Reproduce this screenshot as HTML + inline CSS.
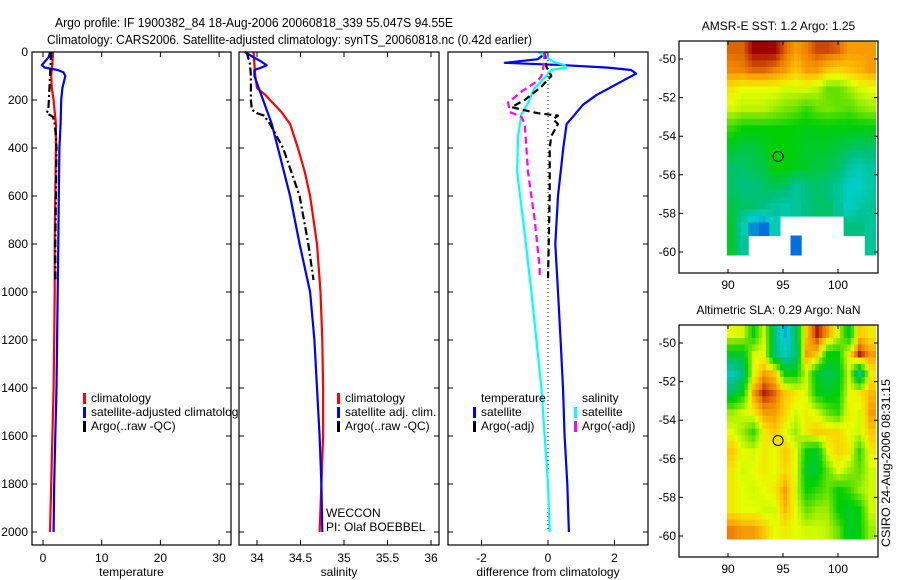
<!DOCTYPE html>
<html><head><meta charset="utf-8">
<style>
html,body{margin:0;padding:0;background:#fff;}
svg{display:block;font-family:"Liberation Sans",Arial,sans-serif;}
</style></head>
<body>
<svg id="fig" width="900" height="580" viewBox="0 0 900 580" xmlns="http://www.w3.org/2000/svg">
<text x="55" y="27" font-size="13" textLength="398" lengthAdjust="spacingAndGlyphs">Argo profile: IF 1900382_84 18-Aug-2006 20060818_339 55.047S 94.55E</text>
<text x="47" y="44" font-size="13" textLength="485" lengthAdjust="spacingAndGlyphs">Climatology: CARS2006. Satellite-adjusted climatology: synTS_20060818.nc (0.42d earlier)</text>
<text transform="translate(890,547) rotate(-90)" font-size="12" textLength="168" lengthAdjust="spacingAndGlyphs">CSIRO 24-Aug-2006 08:31:15</text>
</svg>
<script>
// ---------- data ----------
const depthTicks = [0,200,400,600,800,1000,1200,1400,1600,1800,2000];
const tempTicks = [0,10,20,30];
const salTicks = [34,34.5,35,35.5,36];
const salTickLabels = ["34","34.5","35","35.5","36"];
const diffTicks = [-2,0,2];

const tClimDepth = [0,50,100,150,200,250,300,400,600,800,1000,1200,1400,1600,1800,2000];
const tClimVal   = [1.7,1.6,1.4,1.5,1.8,2.0,2.2,2.2,2.1,2.0,2.0,1.9,1.8,1.6,1.4,1.2];
const tSatDepth  = [0,20,40,55,65,75,85,100,150,200,300,400,600,800,1000,1200,1400,1600,1800,2000];
const tSatVal    = [1.2,1.0,0.3,-0.2,0.3,2.5,3.5,3.8,3.3,3.1,3.0,2.8,2.7,2.6,2.5,2.4,2.3,2.1,1.9,1.8];
const tArgoDepth = [0,50,100,150,200,240,255,270,300,350,400,600,800,950];
const tArgoVal   = [1.4,1.3,1.2,1.1,1.0,0.9,0.6,1.7,2.0,2.2,2.3,2.2,2.1,2.1];

const sClimDepth = [0,100,150,180,200,250,300,400,500,600,800,1000,1200,1400,1600,1800,2000];
const sClimVal   = [33.96,33.98,34.0,34.1,34.15,34.28,34.38,34.47,34.55,34.61,34.69,34.73,34.75,34.76,34.76,34.74,34.72];
const sSatDepth  = [0,20,40,55,65,75,100,130,200,300,400,600,800,1000,1200,1400,1600,1800,2000];
const sSatVal    = [33.86,33.95,34.05,34.11,34.05,33.97,33.97,34.0,34.07,34.17,34.24,34.38,34.49,34.61,34.66,34.69,34.72,34.74,34.75];
const sArgoDepth = [0,50,100,200,240,255,265,300,400,600,800,950];
const sArgoVal   = [33.88,33.92,33.93,33.93,33.94,34.0,34.08,34.15,34.3,34.49,34.59,34.65];

const dTSatDepth = [0,30,45,55,65,75,90,120,180,220,270,300,400,600,800,1000,1200,1400,1600,1800,2000];
const dTSatVal   = [-0.05,-0.3,-1.3,0.5,1.8,2.5,2.65,2.25,1.45,1.05,0.75,0.56,0.46,0.3,0.22,0.3,0.38,0.45,0.5,0.58,0.63];
const dSSatDepth = [0,20,40,55,65,75,100,150,213,260,350,500,700,1000,1200,1400,1600,1800,2000];
const dSSatVal   = [-0.3,-0.05,0.15,0.5,0.55,0.1,-0.05,-0.4,-0.6,-0.8,-0.9,-0.93,-0.75,-0.5,-0.35,-0.2,-0.1,0,0.05];
const dTArgoDepth = [0,60,100,144,200,230,255,265,280,300,350,400,600,800,950];
const dTArgoVal   = [-0.1,-0.05,0.1,-0.2,-0.7,-1.1,-0.3,0.3,0.15,0.3,0.1,0.05,0.05,0.02,0.0];
const dSArgoDepth = [0,50,100,120,160,210,250,270,300,400,500,700,900,930];
const dSArgoVal   = [-0.1,-0.12,-0.2,-0.3,-0.75,-1.2,-1.15,-0.8,-0.7,-0.65,-0.6,-0.4,-0.25,-0.25];

const lonTicks = [90,95,100];
const latTicks = [-50,-52,-54,-56,-58,-60];
const profileLon = 94.55;
const profileLat = -55.05;
const N = NaN;
const sstGrid = [
[0.9,0.9,0.97,0.97,0.97,0.9,0.85,0.88,0.92,0.92,0.9,0.85,0.85,0.85],
[0.87,0.88,0.9,0.9,0.88,0.85,0.8,0.85,0.85,0.8,0.78,0.8,0.82,0.85],
[0.75,0.72,0.72,0.72,0.72,0.7,0.7,0.7,0.68,0.6,0.6,0.65,0.7,0.72],
[0.7,0.68,0.68,0.68,0.65,0.62,0.6,0.55,0.6,0.62,0.6,0.58,0.62,0.65],
[0.55,0.5,0.5,0.5,0.5,0.5,0.48,0.48,0.48,0.48,0.48,0.48,0.48,0.48],
[0.45,0.42,0.42,0.45,0.5,0.5,0.48,0.45,0.45,0.45,0.42,0.4,0.38,0.38],
[0.38,0.38,0.4,0.42,0.5,0.5,0.47,0.45,0.42,0.42,0.38,0.3,0.25,0.3],
[0.38,0.35,0.35,0.38,0.4,0.38,0.3,0.35,0.38,0.35,0.3,0.22,0.22,0.28],
[0.42,0.38,0.38,0.35,0.3,0.28,0.3,0.35,0.38,0.38,0.32,0.22,0.28,0.32],
[0.45,0.25,0.1,0.05,0.25,N,N,N,N,N,N,0.35,0.35,0.3],
[0.45,0.3,N,N,N,N,0.05,N,N,N,N,N,N,0.3]];
const slaGrid = [
[0.72,0.7,0.5,0.7,0.35,0.15,0.4,0.8,0.95,0.85,0.7,0.45,0.8,0.75],
[0.45,0.45,0.7,0.72,0.35,0.25,0.35,0.85,0.8,0.5,0.5,0.75,0.95,0.85],
[0.25,0.35,0.72,0.85,0.8,0.5,0.5,0.7,0.45,0.4,0.45,0.7,0.3,0.75],
[0.4,0.5,0.85,0.95,0.9,0.8,0.75,0.7,0.5,0.45,0.5,0.72,0.75,0.82],
[0.65,0.7,0.75,0.85,0.85,0.78,0.7,0.75,0.7,0.6,0.55,0.75,0.7,0.85],
[0.72,0.65,0.55,0.75,0.8,0.72,0.65,0.75,0.8,0.78,0.78,0.72,0.7,0.8],
[0.8,0.72,0.7,0.75,0.72,0.8,0.72,0.5,0.45,0.72,0.78,0.75,0.55,0.75],
[0.75,0.7,0.72,0.75,0.72,0.78,0.72,0.45,0.45,0.6,0.72,0.65,0.6,0.7],
[0.75,0.72,0.7,0.72,0.75,0.85,0.7,0.5,0.55,0.6,0.5,0.55,0.65,0.7],
[0.75,0.72,0.72,0.7,0.7,0.82,0.72,0.6,0.65,0.65,0.5,0.45,0.5,0.7],
[0.88,0.85,0.85,0.8,0.72,0.75,0.72,0.7,0.7,0.68,0.6,0.45,0.5,0.65]];

// ---------- helpers ----------
const NS = "http://www.w3.org/2000/svg";
const svg = document.getElementById('fig');
function mk(tag, attrs, parent){
  const e = document.createElementNS(NS, tag);
  for (const k in attrs) e.setAttribute(k, attrs[k]);
  (parent||svg).appendChild(e);
  return e;
}
const Y0 = 52, YS = 0.24;
function yD(d){ return Y0 + d*YS; }
const panels = [
  {x0:32, x1:231, xf:v=>43+5.87*v},
  {x0:239, x1:439, xf:v=>257+87*(v-34)},
  {x0:448, x1:648, xf:v=>548+33.25*v}
];
const PB = 545;

function drawAxesFrame(p, ticks, labels, name, xlabel){
  const bg = mk('rect',{x:p.x0,y:Y0,width:p.x1-p.x0,height:PB-Y0,fill:'#fff',stroke:'none'});
  
  
  ticks.forEach((t,i)=>{
    const x = p.xf(t);
    const tk = mk('path',{d:`M${x},${PB}v-5M${x},${Y0}v5`,stroke:'#000','stroke-width':1});
    
    
    const tl = mk('text',{x:x,y:562,'font-size':12,'text-anchor':'middle'});
    tl.textContent = labels[i];
    
    
  });
  depthTicks.forEach(d=>{
    const y = yD(d);
    const tk = mk('path',{d:`M${p.x0},${y}h5M${p.x1},${y}h-5`,stroke:'#000','stroke-width':1});
    
    
  });
  const xl = mk('text',{x:(p.x0+p.x1)/2,y:576,'font-size':12,'text-anchor':'middle'});
  xl.textContent = xlabel;
  
  
}
function drawFrameBorder(p, name){
  const fr = mk('rect',{x:p.x0,y:Y0,width:p.x1-p.x0,height:PB-Y0,fill:'none',stroke:'#000','stroke-width':1.2});
  
  
}
function line(p, depths, vals, color, dash, name){
  const pts = depths.map((d,i)=>p.xf(vals[i]).toFixed(1)+','+yD(d).toFixed(1)).join(' ');
  const pl = mk('polyline',{points:pts,fill:'none',stroke:color,'stroke-width':2.2,'stroke-dasharray':dash||'none','stroke-linejoin':'round'});
  
  
}
function legend(x, y, color, text, name){
  if(color){
    const b = mk('rect',{x:x,y:y-9,width:3,height:11,fill:color});
    
    
  }
  const t = mk('text',{x:x+8,y:y,'font-size':12});
  t.textContent = text;
  
  
}

depthTicks.forEach(d=>{
  const t = mk('text',{x:28,y:yD(d)+4,'font-size':12,'text-anchor':'end'});
  t.textContent = String(d);
  
  
});

// Panel 1: temperature
drawAxesFrame(panels[0], tempTicks, tempTicks.map(String), 'temperature-panel', 'temperature');
line(panels[0], tClimDepth, tClimVal, '#ff0000', null, 'temperature-climatology-line');
line(panels[0], tSatDepth, tSatVal, '#0000ff', null, 'temperature-satellite-line');
line(panels[0], tArgoDepth, tArgoVal, '#000', '8,3,2,3', 'temperature-argo-line');
legend(83, 402, '#ff0000', 'climatology', 'legend-climatology');
legend(83, 416, '#0000ff', 'satellite-adjusted climatology', 'legend-satellite-adjusted');
legend(83, 430, '#000', 'Argo(..raw -QC)', 'legend-argo');

// Panel 2: salinity
drawAxesFrame(panels[1], salTicks, salTickLabels, 'salinity-panel', 'salinity');
line(panels[1], sClimDepth, sClimVal, '#ff0000', null, 'salinity-climatology-line');
line(panels[1], sSatDepth, sSatVal, '#0000ff', null, 'salinity-satellite-line');
line(panels[1], sArgoDepth, sArgoVal, '#000', '8,3,2,3', 'salinity-argo-line');
legend(337, 402, '#ff0000', 'climatology', 'legend-sal-climatology');
legend(337, 416, '#0000ff', 'satellite adj. clim.', 'legend-sal-satellite');
legend(337, 430, '#000', 'Argo(..raw -QC)', 'legend-sal-argo');
legend(318, 517, null, 'WECCON', 'project-name');
legend(318, 531, null, 'PI: Olaf BOEBBEL', 'pi-name');

// Panel 3: difference
drawAxesFrame(panels[2], diffTicks, diffTicks.map(String), 'difference-panel', 'difference from climatology');
const zl = mk('line',{x1:panels[2].xf(0),y1:Y0,x2:panels[2].xf(0),y2:yD(2000),stroke:'#000','stroke-width':1,'stroke-dasharray':'1,3'});


line(panels[2], dTSatDepth, dTSatVal, '#0000ff', null, 'diff-temperature-satellite-line');
line(panels[2], dSSatDepth, dSSatVal, '#00ffff', null, 'diff-salinity-satellite-line');
line(panels[2], dTArgoDepth, dTArgoVal, '#000', '7,4', 'diff-temperature-argo-line');
line(panels[2], dSArgoDepth, dSArgoVal, '#ff00ff', '7,4', 'diff-salinity-argo-line');
legend(473, 402, null, 'temperature', 'legend-diff-temperature-heading');
legend(473, 416, '#0000ff', 'satellite', 'legend-diff-temp-satellite');
legend(473, 430, '#000', 'Argo(-adj)', 'legend-diff-temp-argo');
legend(574, 402, null, 'salinity', 'legend-diff-salinity-heading');
legend(574, 416, '#00ffff', 'satellite', 'legend-diff-sal-satellite');
legend(574, 430, '#ff00ff', 'Argo(-adj)', 'legend-diff-sal-argo');
panels.forEach((p,i)=>drawFrameBorder(p, ['temperature-panel','salinity-panel','difference-panel'][i]));

// ---------- maps ----------
const stops = [[0,[0,80,224]],[0.2,[0,208,208]],[0.35,[0,192,128]],[0.5,[0,208,0]],[0.62,[120,230,0]],[0.72,[230,255,0]],[0.8,[255,200,0]],[0.88,[240,130,0]],[0.97,[160,0,0]]];
function cmap(v){
  if (v<=stops[0][0]) return `rgb(${stops[0][1]})`;
  for (let i=1;i<stops.length;i++){
    if (v<=stops[i][0]){
      const a=stops[i-1], b=stops[i], f=(v-a[0])/(b[0]-a[0]);
      const c=a[1].map((x,j)=>Math.round(x+(b[1][j]-x)*f));
      return `rgb(${c})`;
    }
  }
  return `rgb(${stops[stops.length-1][1]})`;
}
// bilinear sample of grid at fractional (row, col) centre coordinates
function sample(grid, r, c){
  const rows=grid.length, cols=grid[0].length;
  const rr=Math.min(Math.max(r,0),rows-1), cc=Math.min(Math.max(c,0),cols-1);
  const r0=Math.floor(rr), c0=Math.floor(cc), r1=Math.min(r0+1,rows-1), c1=Math.min(c0+1,cols-1);
  const fr=rr-r0, fc=cc-c0;
  const near = grid[Math.round(rr)][Math.round(cc)];
  if (isNaN(near)) return NaN;
  const v=[grid[r0][c0],grid[r0][c1],grid[r1][c0],grid[r1][c1]];
  if (v.some(isNaN)) return near;
  return v[0]*(1-fr)*(1-fc)+v[1]*(1-fr)*fc+v[2]*fr*(1-fc)+v[3]*fr*fc;
}
function drawMap(bx0, by0, title, grid, name){
  const bx1 = 878, by1 = by0+232;
  const lonX = lon => 728 + (lon-90)*11;
  const latOff = by0 + 18;
  const latY = lat => latOff + (-50-lat)*19.3;
  const t = mk('text',{x:(bx0+bx1)/2,y:by0-11,'font-size':12,'text-anchor':'middle'});
  t.textContent = title;
  
  
  const lon0=89.9, lon1=103.4, lat0=-49.07, lat1=-60.15;
  const rows=grid.length, cols=grid[0].length;
  const sub=3;
  const dlon=(lon1-lon0)/(cols*sub), dlat=(lat0-lat1)/(rows*sub);
  for (let r=0;r<rows*sub;r++){
    for (let c=0;c<cols*sub;c++){
      const v = sample(grid, (r+0.5)/sub-0.5, (c+0.5)/sub-0.5);
      if (isNaN(v)) continue;
      const x=lonX(lon0+c*dlon), y=latY(lat0-r*dlat);
      const cell = mk('rect',{x:x.toFixed(1),y:y.toFixed(1),width:(dlon*11+0.6).toFixed(1),height:(dlat*19.3+0.6).toFixed(1),fill:cmap(v)});
      
      
    }
  }
  const fr = mk('rect',{x:bx0,y:by0,width:bx1-bx0,height:by1-by0,fill:'none',stroke:'#000','stroke-width':1.2});
  
  
  lonTicks.forEach(lon=>{
    const x=lonX(lon);
    const tk = mk('path',{d:`M${x},${by1}v-4M${x},${by0}v4`,stroke:'#000'});
    
    
    const tl = mk('text',{x:x,y:by1+16,'font-size':12,'text-anchor':'middle'});
    tl.textContent = String(lon);
    
    
  });
  latTicks.forEach(lat=>{
    const y=latY(lat);
    const tk = mk('path',{d:`M${bx0},${y}h4M${bx1},${y}h-4`,stroke:'#000'});
    
    
    const tl = mk('text',{x:bx0-3,y:y+4,'font-size':12,'text-anchor':'end'});
    tl.textContent = String(lat);
    
    
  });
  const ci = mk('circle',{cx:lonX(profileLon),cy:latY(profileLat),r:5,fill:'none',stroke:'#000','stroke-width':1});
  
  
}
drawMap(679, 41, 'AMSR-E SST: 1.2 Argo: 1.25', sstGrid, 'sst-map');
drawMap(679, 325, 'Altimetric SLA: 0.29 Argo: NaN', slaGrid, 'sla-map');
</script>
</body></html>
